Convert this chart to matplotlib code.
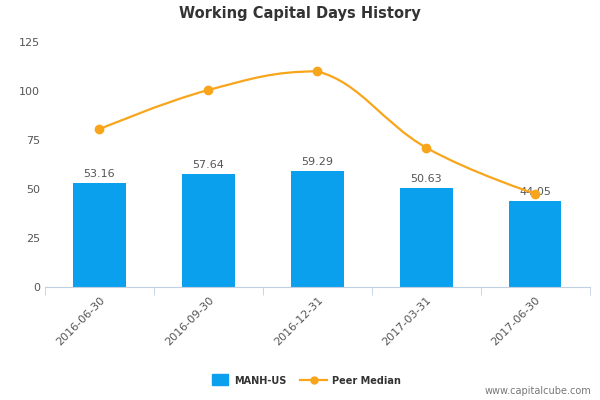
import numpy as np
import matplotlib
matplotlib.use("Agg")
import matplotlib.pyplot as plt
from matplotlib.path import Path
from matplotlib.patches import PathPatch

categories = ["2016-06-30", "2016-09-30", "2016-12-31", "2017-03-31", "2017-06-30"]
company_days = [53.16, 57.64, 59.29, 50.63, 44.05]
peer_median = [80.5, 100.5, 110.0, 71.0, 47.5]

fig = plt.figure(figsize=(6, 4), dpi=100)
ax = fig.add_axes([0.075, 0.283, 0.908, 0.612])

x = np.arange(len(categories))
ax.bar(x, company_days, width=0.48, color="#0aa0ee", zorder=2)
for xi, v in zip(x, company_days):
    ax.text(xi, v + 2, f"{v:.2f}", ha="center", va="bottom", fontsize=8, color="#555555")

# Highcharts-style spline through the peer-median points
sm = 1.5
verts = [(x[0], peer_median[0])]
codes = [Path.MOVETO]
pts = list(zip(x, peer_median))
for i in range(1, len(pts)):
    p0 = pts[i - 1]
    p1 = pts[i]
    # control point leaving p0
    if i - 1 > 0:
        pa, pb = pts[i - 2], pts[i]
        lx = (sm * p0[0] + pb[0]) / (sm + 1); ly = (sm * p0[1] + pb[1]) / (sm + 1)
        fx = (sm * p0[0] + pa[0]) / (sm + 1); fy = (sm * p0[1] + pa[1]) / (sm + 1)
        slope = (ly - fy) / (lx - fx)
        c1 = (lx, p0[1] + (lx - p0[0]) * slope)
        if (c1[1] > max(p0[1], pb[1]) and p0[1] >= max(pa[1], pb[1])) or \
           (c1[1] < min(p0[1], pb[1]) and p0[1] <= min(pa[1], pb[1])):
            c1 = (lx, p0[1])
    else:
        c1 = p0
    # control point arriving at p1
    if i + 1 < len(pts):
        pa, pb = pts[i - 1], pts[i + 1]
        lx = (sm * p1[0] + pa[0]) / (sm + 1); ly = (sm * p1[1] + pa[1]) / (sm + 1)
        rx = (sm * p1[0] + pb[0]) / (sm + 1); ry = (sm * p1[1] + pb[1]) / (sm + 1)
        slope = (ry - ly) / (rx - lx)
        c2 = (lx, p1[1] + (lx - p1[0]) * slope)
        if (p1[1] >= max(pa[1], pb[1]) or p1[1] <= min(pa[1], pb[1])):
            c2 = (lx, p1[1])
    else:
        c2 = p1
    verts += [c1, c2, p1]
    codes += [Path.CURVE4] * 3
ax.add_patch(PathPatch(Path(verts, codes), fill=False, edgecolor="#f8a51b", lw=1.6, zorder=3))
ax.plot(x, peer_median, "o", color="#f8a51b", ms=6, zorder=4)

ax.set_xlim(-0.5, len(categories) - 0.5)
ax.set_ylim(0, 125)
ax.set_yticks([0, 25, 50, 75, 100, 125])
ax.tick_params(axis="y", length=0, labelsize=8, labelcolor="#555555")
ax.set_xticks(x)
ax.set_xticklabels(categories, rotation=45, ha="right", rotation_mode="anchor", fontsize=8, color="#555555")
ax.set_xticks(np.arange(-0.5, len(categories)), minor=True)
ax.tick_params(axis="x", which="major", length=0, pad=6)
ax.tick_params(axis="x", which="minor", length=6, color="#c0d0e0")
for s in ["top", "right", "left"]:
    ax.spines[s].set_visible(False)
ax.spines["bottom"].set_color("#c0d0e0")

fig.text(0.5, 0.955, "Working Capital Days History", ha="center", fontsize=10.5, fontweight="bold", color="#333333")

# legend
fig.patches.append(plt.Rectangle((0.353, 0.037), 0.027, 0.028, transform=fig.transFigure, color="#0aa0ee"))
fig.text(0.39, 0.048, "MANH-US", fontsize=7, fontweight="bold", color="#333333", va="center")
fig.add_artist(plt.Line2D([0.50, 0.545], [0.049, 0.049], color="#f8a51b", lw=1.6))
fig.add_artist(plt.Line2D([0.5225], [0.049], marker="o", color="#f8a51b", ms=5))
fig.text(0.553, 0.048, "Peer Median", fontsize=7, fontweight="bold", color="#333333", va="center")
fig.text(0.985, 0.015, "www.capitalcube.com", ha="right", fontsize=7, color="#777777")

fig.savefig("out.png", dpi=100)
